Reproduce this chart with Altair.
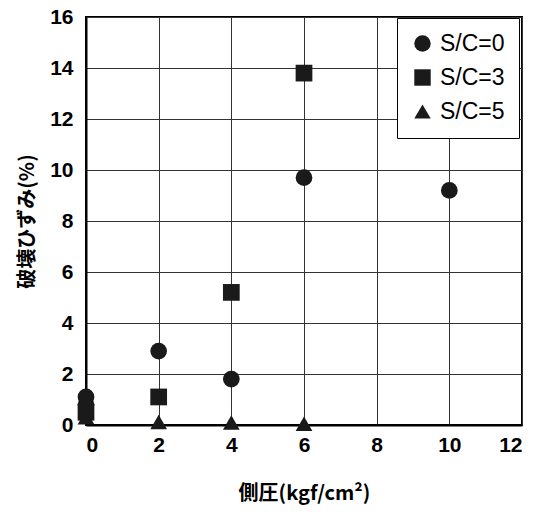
import altair as alt
import pandas as pd

sc0_x = [0, 0, 2, 4, 6, 10]
sc0_y = [1.1, 0.8, 2.9, 1.8, 9.7, 9.2]
sc3_x = [0, 2, 4, 6]
sc3_y = [0.5, 1.1, 5.2, 13.8]
sc5_x = [0, 2, 4, 6]
sc5_y = [0.3, 0.12, 0.1, 0.05]
series = ["S/C=0", "S/C=3", "S/C=5"]

rows = []
for name, xs, ys in zip(series, [sc0_x, sc3_x, sc5_x], [sc0_y, sc3_y, sc5_y]):
    for x, y in zip(xs, ys):
        rows.append({"x": x, "y": y, "s": name})
df = pd.DataFrame(rows)

FONT = "Liberation Sans Narrow, Liberation Sans"
CJK = "Noto Sans CJK JP"

chart = alt.Chart(df).mark_point(filled=True, opacity=1, color="#1a1a1a", size=280).encode(
    x=alt.X("x:Q", scale=alt.Scale(domain=[0, 12], nice=False),
            axis=alt.Axis(values=[0, 2, 4, 6, 8, 10, 12], title="側圧(kgf/cm²)",
                          titleFont=CJK, titleFontSize=20, titleFontWeight="bold",
                          titlePadding=28, labelPadding=9)),
    y=alt.Y("y:Q", scale=alt.Scale(domain=[0, 16], nice=False),
            axis=alt.Axis(values=[0, 2, 4, 6, 8, 10, 12, 14, 16], title="破壊ひずみ(%)",
                          titleFont=CJK, titleFontSize=20, titleFontWeight="bold",
                          titlePadding=12, labelPadding=13)),
    shape=alt.Shape("s:N", scale=alt.Scale(domain=series, range=["circle", "square", "triangle-up"]),
                    legend=alt.Legend(title=None, orient="none", legendX=311, legendY=1,
                                      strokeColor="black", fillColor="white", padding=14,
                                      rowPadding=10, symbolSize=270, symbolFillColor="#1a1a1a",
                                      symbolStrokeColor="#1a1a1a", symbolType="circle",
                                      labelFont="Liberation Sans", labelFontSize=23, labelLimit=200,
                                      labelOffset=6, symbolOffset=0)),
).properties(
    width=436, height=408,
    padding={"left": 86, "top": 17, "right": 23, "bottom": 105},
    autosize=alt.AutoSizeParams(type="none"),
).configure_view(
    stroke="black", strokeWidth=2
).configure_axis(
    labelFont=FONT, labelFontSize=21, labelFontWeight="bold", labelColor="black",
    titleColor="black", domainColor="black", domainWidth=2, ticks=False,
    gridColor="#333333", gridWidth=1,
)

chart.save("out.html", embed_options={"renderer": "svg", "actions": False})
